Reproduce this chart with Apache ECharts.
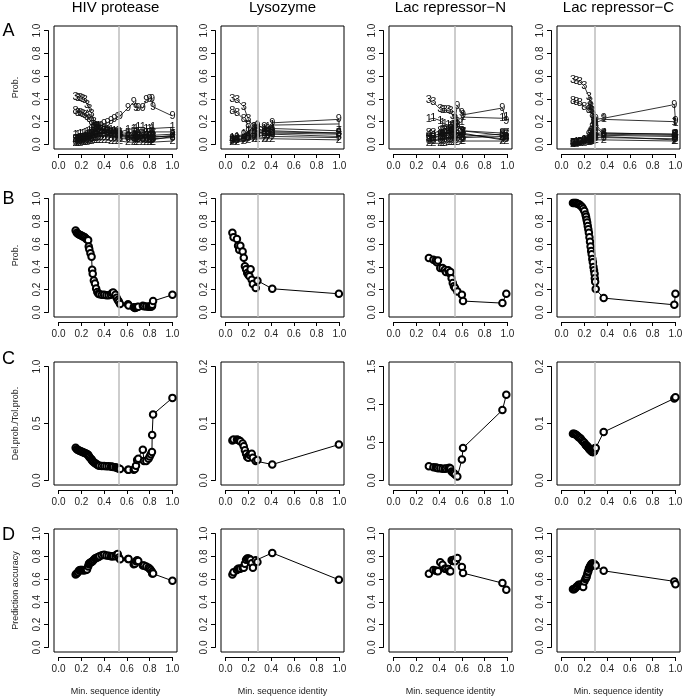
<!DOCTYPE html>
<html><head><meta charset="utf-8">
<script src="https://cdn.jsdelivr.net/npm/echarts@6/dist/echarts.min.js"></script>
<style>html,body{margin:0;padding:0;background:#fff}#c{width:683px;height:699px}</style>
</head><body><div id="c"></div>
<script>
// ---------------- DATA ----------------
const proteins = ["HIV protease", "Lysozyme", "Lac repressor\u2212N", "Lac repressor\u2212C"];
const rowLetters = ["A", "B", "C", "D"];
const rowYNames = ["Prob.", "Prob.", "Del.prob./Tol.prob.", "Prediction accuracy"];
const xAxisName = "Min. sequence identity";
const xTickStep = 0.2;
const rowCMax = [1.0, 0.2, 1.5, 0.2];
const rowCStep = [0.5, 0.1, 0.5, 0.1];
const cutoffs = [0.532, 0.28, 0.54, 0.294];
const classDigits = ["1","2","3","4","5","6","7","8","9"];

// HIV protease
const hivX = [0.15,0.16,0.17,0.18,0.19,0.20,0.21,0.22,0.23,0.24,0.25,0.26,0.265,0.27,0.28,0.29,0.295,0.30,0.31,0.32,0.33,0.34,0.35,0.36,0.38,0.40,0.42,0.44,0.46,0.47,0.48,0.50,0.51,0.52,0.53,0.54,0.61,0.615,0.66,0.67,0.68,0.69,0.70,0.74,0.75,0.77,0.79,0.80,0.81,0.82,0.822,0.83,1.0];
const hivProb = [0.72,0.70,0.69,0.685,0.68,0.675,0.67,0.665,0.66,0.65,0.64,0.635,0.58,0.555,0.52,0.49,0.375,0.34,0.28,0.255,0.21,0.18,0.165,0.16,0.155,0.155,0.15,0.15,0.155,0.17,0.175,0.155,0.13,0.11,0.095,0.075,0.073,0.06,0.045,0.04,0.044,0.047,0.05,0.058,0.055,0.053,0.05,0.053,0.05,0.055,0.067,0.10,0.155];
const hivRatio = [0.287,0.275,0.268,0.262,0.258,0.255,0.25,0.245,0.24,0.236,0.232,0.225,0.215,0.205,0.195,0.185,0.175,0.168,0.16,0.152,0.146,0.138,0.132,0.128,0.127,0.126,0.125,0.124,0.122,0.12,0.119,0.116,0.112,0.108,0.104,0.10,0.094,0.094,0.094,0.10,0.13,0.18,0.19,0.27,0.17,0.17,0.19,0.21,0.23,0.25,0.40,0.58,0.725];
const hivAcc = [0.64,0.65,0.66,0.675,0.68,0.68,0.68,0.675,0.68,0.68,0.685,0.71,0.73,0.74,0.745,0.75,0.755,0.76,0.77,0.78,0.785,0.79,0.795,0.80,0.81,0.815,0.808,0.805,0.80,0.80,0.80,0.80,0.815,0.82,0.79,0.775,0.776,0.776,0.73,0.735,0.756,0.765,0.76,0.72,0.72,0.71,0.70,0.69,0.68,0.665,0.65,0.65,0.585];
const hivAX = [0.15,0.17,0.19,0.21,0.23,0.25,0.27,0.29,0.31,0.33,0.35,0.37,0.40,0.43,0.46,0.49,0.52,0.54,0.61,0.66,0.68,0.70,0.74,0.77,0.80,0.82,0.83,1.0];
const hivClass = [
 [0.08,0.08,0.09,0.09,0.10,0.11,0.12,0.14,0.15,0.16,0.16,0.15,0.14,0.13,0.13,0.12,0.12,0.11,0.13,0.14,0.14,0.15,0.15,0.14,0.14,0.14,0.15,0.15],
 [0.01,0.01,0.01,0.02,0.02,0.02,0.03,0.03,0.04,0.04,0.04,0.04,0.04,0.04,0.03,0.03,0.03,0.03,0.02,0.02,0.02,0.02,0.02,0.02,0.02,0.02,0.02,0.03],
 [0.42,0.41,0.41,0.40,0.39,0.35,0.31,0.27,0.20,0.16,0.14,0.13,0.12,0.11,0.10,0.09,0.08,0.08,0.07,0.06,0.06,0.07,0.06,0.06,0.07,0.06,0.07,0.08],
 [0.03,0.03,0.04,0.04,0.05,0.05,0.06,0.07,0.08,0.09,0.10,0.10,0.11,0.11,0.10,0.10,0.10,0.09,0.08,0.08,0.09,0.08,0.08,0.09,0.08,0.08,0.08,0.09],
 [0.05,0.05,0.06,0.06,0.06,0.07,0.08,0.09,0.11,0.12,0.13,0.13,0.12,0.12,0.11,0.11,0.10,0.10,0.10,0.11,0.10,0.11,0.11,0.10,0.10,0.11,0.10,0.11],
 [0.02,0.02,0.03,0.03,0.03,0.04,0.04,0.05,0.06,0.06,0.07,0.07,0.07,0.07,0.06,0.06,0.06,0.05,0.05,0.05,0.05,0.05,0.05,0.05,0.05,0.05,0.05,0.06],
 [0.04,0.04,0.04,0.05,0.05,0.06,0.07,0.08,0.09,0.10,0.09,0.09,0.08,0.08,0.08,0.07,0.07,0.07,0.06,0.07,0.07,0.07,0.07,0.07,0.07,0.07,0.07,0.07],
 [0.29,0.28,0.28,0.27,0.26,0.24,0.22,0.20,0.17,0.15,0.14,0.13,0.12,0.11,0.10,0.10,0.09,0.08,0.07,0.06,0.05,0.05,0.05,0.04,0.04,0.04,0.05,0.07],
 [0.05,0.05,0.06,0.06,0.07,0.08,0.09,0.11,0.13,0.14,0.15,0.16,0.18,0.19,0.21,0.22,0.24,0.25,0.32,0.37,0.32,0.32,0.32,0.39,0.40,0.40,0.33,0.25]
];

// Lysozyme
const lysX = [0.06,0.07,0.10,0.11,0.12,0.13,0.15,0.16,0.17,0.18,0.19,0.20,0.21,0.22,0.23,0.24,0.265,0.28,0.41,0.995];
const lysProb = [0.70,0.66,0.645,0.585,0.55,0.585,0.535,0.48,0.405,0.38,0.346,0.33,0.317,0.38,0.287,0.25,0.214,0.279,0.208,0.164];
const lysRatio = [0.070,0.072,0.072,0.071,0.070,0.069,0.065,0.060,0.053,0.047,0.041,0.040,0.045,0.044,0.047,0.040,0.034,0.036,0.028,0.063];
const lysAcc = [0.64,0.66,0.68,0.69,0.69,0.69,0.70,0.70,0.735,0.77,0.78,0.78,0.776,0.77,0.74,0.70,0.765,0.75,0.83,0.594];
const lysAX = [0.06,0.10,0.16,0.20,0.25,0.28,0.34,0.37,0.41,0.995];
const lysClass = [
 [0.06,0.07,0.09,0.12,0.15,0.17,0.14,0.15,0.17,0.18],
 [0.02,0.02,0.03,0.04,0.05,0.05,0.05,0.05,0.05,0.04],
 [0.40,0.39,0.33,0.22,0.15,0.14,0.12,0.11,0.11,0.10],
 [0.04,0.05,0.06,0.08,0.10,0.12,0.12,0.12,0.14,0.12],
 [0.03,0.04,0.05,0.07,0.08,0.10,0.10,0.10,0.12,0.10],
 [0.04,0.04,0.05,0.06,0.07,0.08,0.08,0.08,0.09,0.07],
 [0.03,0.03,0.04,0.05,0.06,0.07,0.06,0.06,0.07,0.06],
 [0.29,0.28,0.22,0.17,0.12,0.11,0.10,0.10,0.10,0.09],
 [0.05,0.06,0.08,0.11,0.14,0.16,0.15,0.14,0.19,0.22]
];

// Lac repressor-N
const lacNX = [0.31,0.35,0.37,0.38,0.39,0.41,0.43,0.45,0.46,0.48,0.49,0.50,0.51,0.52,0.53,0.54,0.56,0.60,0.61,0.956,0.99];
const lacNProb = [0.478,0.463,0.455,0.44,0.457,0.39,0.39,0.375,0.355,0.37,0.346,0.355,0.30,0.258,0.229,0.214,0.185,0.155,0.10,0.082,0.164];
const lacNRatio = [0.188,0.175,0.170,0.166,0.162,0.160,0.153,0.155,0.157,0.160,0.166,0.157,0.118,0.105,0.096,0.079,0.052,0.275,0.428,0.927,1.128];
const lacNAcc = [0.647,0.68,0.676,0.672,0.668,0.747,0.726,0.69,0.692,0.688,0.67,0.668,0.765,0.76,0.77,0.756,0.785,0.706,0.653,0.565,0.506];
const lacNAX = [0.31,0.35,0.41,0.43,0.45,0.48,0.50,0.52,0.54,0.56,0.60,0.61,0.956,0.99];
const lacNClass = [
 [0.22,0.23,0.21,0.19,0.18,0.17,0.16,0.16,0.17,0.18,0.20,0.24,0.23,0.24],
 [0.01,0.01,0.01,0.01,0.01,0.02,0.02,0.02,0.02,0.02,0.03,0.03,0.03,0.03],
 [0.39,0.37,0.31,0.30,0.30,0.30,0.29,0.25,0.22,0.20,0.12,0.11,0.08,0.07],
 [0.08,0.08,0.09,0.09,0.10,0.10,0.11,0.12,0.11,0.10,0.09,0.09,0.05,0.06],
 [0.06,0.06,0.07,0.07,0.07,0.08,0.08,0.09,0.09,0.08,0.07,0.07,0.09,0.08],
 [0.03,0.03,0.04,0.04,0.05,0.05,0.05,0.06,0.06,0.06,0.06,0.05,0.07,0.05],
 [0.04,0.04,0.05,0.06,0.06,0.06,0.07,0.07,0.08,0.07,0.10,0.11,0.04,0.10],
 [0.10,0.10,0.12,0.12,0.13,0.13,0.14,0.15,0.16,0.17,0.12,0.11,0.10,0.09],
 [0.05,0.06,0.08,0.09,0.10,0.12,0.14,0.17,0.22,0.34,0.28,0.26,0.32,0.21]
];

// Lac repressor-C
const lacCX = [0.10,0.11,0.12,0.13,0.14,0.15,0.16,0.17,0.18,0.19,0.20,0.21,0.215,0.22,0.225,0.23,0.235,0.24,0.245,0.25,0.255,0.26,0.265,0.27,0.275,0.28,0.285,0.29,0.292,0.295,0.30,0.37,0.99,1.0];
const lacCProb = [0.96,0.96,0.96,0.96,0.955,0.95,0.945,0.935,0.925,0.91,0.89,0.86,0.84,0.815,0.79,0.76,0.73,0.70,0.66,0.62,0.58,0.54,0.51,0.47,0.44,0.40,0.37,0.34,0.30,0.27,0.205,0.126,0.067,0.164];
const lacCRatio = [0.082,0.082,0.081,0.080,0.078,0.076,0.075,0.073,0.070,0.068,0.066,0.063,0.062,0.061,0.060,0.059,0.058,0.056,0.055,0.054,0.053,0.052,0.051,0.050,0.050,0.050,0.051,0.053,0.056,0.057,0.057,0.085,0.144,0.146];
const lacCAcc = [0.51,0.51,0.52,0.53,0.54,0.55,0.55,0.55,0.54,0.53,0.58,0.60,0.61,0.62,0.64,0.66,0.67,0.69,0.70,0.71,0.72,0.73,0.73,0.74,0.73,0.73,0.725,0.72,0.73,0.72,0.72,0.673,0.58,0.555];
const lacCAX = [0.10,0.13,0.16,0.20,0.24,0.25,0.26,0.27,0.28,0.29,0.30,0.37,0.99,1.0];
const lacCClass = [
 [0.01,0.02,0.02,0.04,0.07,0.09,0.11,0.13,0.15,0.17,0.19,0.22,0.20,0.19],
 [0.00,0.00,0.01,0.01,0.02,0.02,0.03,0.03,0.03,0.04,0.04,0.04,0.03,0.03],
 [0.57,0.56,0.55,0.51,0.42,0.37,0.33,0.29,0.25,0.21,0.17,0.10,0.09,0.09],
 [0.01,0.01,0.02,0.03,0.05,0.06,0.07,0.08,0.09,0.10,0.10,0.10,0.09,0.09],
 [0.01,0.01,0.02,0.03,0.04,0.05,0.06,0.07,0.08,0.08,0.09,0.08,0.07,0.07],
 [0.00,0.01,0.01,0.02,0.03,0.04,0.04,0.05,0.05,0.06,0.06,0.06,0.05,0.05],
 [0.01,0.01,0.01,0.02,0.04,0.05,0.05,0.06,0.07,0.07,0.08,0.07,0.04,0.04],
 [0.38,0.37,0.36,0.33,0.30,0.34,0.30,0.26,0.22,0.19,0.15,0.09,0.08,0.08],
 [0.01,0.01,0.02,0.04,0.08,0.10,0.12,0.15,0.17,0.19,0.22,0.23,0.35,0.21]
];

// ---------------- LAYOUT ----------------
const FONT = '"Liberation Sans", Arial, Helvetica, sans-serif';
const colLeft = [54, 221, 389, 557];
const rowTop = [26, 194, 362, 529];
const BOX = 123;
const PAD = BOX * 0.04 / 1.08;
const INNER = BOX / 1.08;
const AXGAP_X = 5;   // gap box bottom -> x axis line
const AXGAP_Y = 6;   // gap box left -> y axis line

const panelData = [
  {x: hivX, prob: hivProb, ratio: hivRatio, acc: hivAcc, ax: hivAX, cls: hivClass},
  {x: lysX, prob: lysProb, ratio: lysRatio, acc: lysAcc, ax: lysAX, cls: lysClass},
  {x: lacNX, prob: lacNProb, ratio: lacNRatio, acc: lacNAcc, ax: lacNAX, cls: lacNClass},
  {x: lacCX, prob: lacCProb, ratio: lacCRatio, acc: lacCAcc, ax: lacCAX, cls: lacCClass}
];

const grids = [], xAxes = [], yAxes = [], series = [], graphics = [];
const axisColor = '#000';
const labelColor = '#222';
const hiddenAxis = (gi, min, max) => ({gridIndex: gi, type: 'value', min: min, max: max, show: false});

function gapLine(cut) {
  return {silent: true, symbol: ['none', 'none'], label: {show: false},
    lineStyle: {color: '#bdbdbd', width: 1.5, type: 'solid'},
    emphasis: {disabled: true}, data: [{xAxis: cut}], animation: false};
}

for (let r = 0; r < 4; r++) {
  for (let c = 0; c < 4; c++) {
    const ymax = r === 2 ? rowCMax[c] : 1.0;
    const ystep = r === 2 ? rowCStep[c] : 0.2;
    const boxBottom = rowTop[r] + BOX;
    // boxed data region
    const gi = grids.length;
    grids.push({left: colLeft[c], top: rowTop[r], width: BOX, height: BOX, show: true,
      borderColor: '#000', borderWidth: 1, backgroundColor: 'rgba(0,0,0,0)', outerBoundsMode: 'none'});
    xAxes.push(hiddenAxis(gi, -0.04, 1.04));
    yAxes.push(hiddenAxis(gi, -0.04 * ymax, 1.04 * ymax));
    // x axis (detached below the box)
    const gx = grids.length;
    grids.push({left: colLeft[c] + PAD, top: boxBottom + AXGAP_X - 1, width: INNER, height: 1, show: false, outerBoundsMode: 'none'});
    xAxes.push({gridIndex: gx, type: 'value', min: 0, max: 1, interval: xTickStep, position: 'bottom',
      axisLine: {show: true, onZero: false, lineStyle: {color: axisColor, width: 1}},
      axisTick: {show: true, inside: false, length: 4, lineStyle: {color: axisColor, width: 1}},
      axisLabel: {show: true, margin: 7, fontSize: 10, color: labelColor, fontFamily: FONT,
        formatter: v => v.toFixed(1), showMinLabel: true, showMaxLabel: true},
      splitLine: {show: false},
      name: r === 3 ? xAxisName : '', nameLocation: 'middle', nameGap: 30,
      nameTextStyle: {fontSize: 9, color: labelColor, fontFamily: FONT}});
    yAxes.push(hiddenAxis(gx, 0, 1));
    // y axis (detached left of the box)
    const gy = grids.length;
    grids.push({left: colLeft[c] - AXGAP_Y, top: rowTop[r] + PAD, width: 1, height: INNER, show: false, outerBoundsMode: 'none'});
    xAxes.push(hiddenAxis(gy, 0, 1));
    yAxes.push({gridIndex: gy, type: 'value', min: 0, max: ymax, interval: ystep, position: 'left',
      axisLine: {show: true, onZero: false, lineStyle: {color: axisColor, width: 1}},
      axisTick: {show: true, inside: false, length: 4, lineStyle: {color: axisColor, width: 1}},
      axisLabel: {show: true, rotate: 90, margin: 6, fontSize: 10, color: labelColor, fontFamily: FONT,
        formatter: v => v.toFixed(1), showMinLabel: true, showMaxLabel: true},
      splitLine: {show: false},
      name: c === 0 ? rowYNames[r] : '', nameLocation: 'middle', nameGap: 28, nameRotate: 90,
      nameTextStyle: {fontSize: 9, color: labelColor, fontFamily: FONT}});

    const d = panelData[c];
    if (r === 0) {
      d.cls.forEach((vals, k) => {
        const s = {type: 'line', xAxisIndex: gi, yAxisIndex: gi, silent: true,
          data: d.ax.map((xv, i) => [xv, vals[i]]),
          symbol: 'circle', symbolSize: 1, showSymbol: true,
          itemStyle: {color: 'rgba(0,0,0,0)'},
          lineStyle: {color: '#000', width: 0.8},
          label: {show: true, position: 'inside', formatter: classDigits[k], color: '#111',
            fontSize: 11, fontFamily: FONT},
          emphasis: {disabled: true}, z: 3};
        if (k === 0) s.markLine = gapLine(cutoffs[c]);
        series.push(s);
      });
    } else {
      const vals = r === 1 ? d.prob : (r === 2 ? d.ratio : d.acc);
      series.push({type: 'line', xAxisIndex: gi, yAxisIndex: gi, silent: true,
        data: d.x.map((xv, i) => [xv, vals[i]]),
        symbol: 'emptyCircle', symbolSize: 6.5, showSymbol: true,
        itemStyle: {color: '#000', borderColor: '#000', borderWidth: 0.9},
        lineStyle: {color: '#000', width: 1},
        emphasis: {disabled: true},
        markLine: gapLine(cutoffs[c]), z: 3});
    }
  }
}

// column titles and row letters
const titleCenters = colLeft.map(l => l + BOX / 2);
proteins.forEach((p, c) => graphics.push({type: 'text', x: titleCenters[c], y: 8,
  style: {text: p, fill: '#000', font: '15px ' + FONT, textAlign: 'center', textVerticalAlign: 'middle'}}));
const letterY = [31.5, 199, 359, 535.5];
rowLetters.forEach((L, r) => graphics.push({type: 'text', x: 8.5, y: letterY[r],
  style: {text: L, fill: '#000', font: '18px ' + FONT, textAlign: 'center', textVerticalAlign: 'middle'}}));

const chart = echarts.init(document.getElementById('c'), null, {renderer: 'canvas'});
chart.setOption({
  animation: false,
  backgroundColor: '#fff',
  textStyle: {fontFamily: FONT},
  grid: grids, xAxis: xAxes, yAxis: yAxes, series: series, graphic: graphics
});
</script>
</body></html>
